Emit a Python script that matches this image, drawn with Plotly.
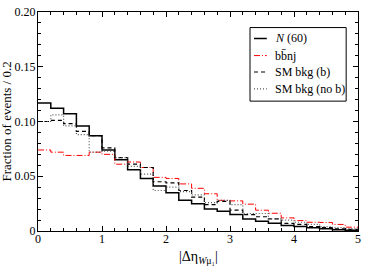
import plotly.graph_objects as go

# ---------------- data ----------------
bin_edges = [round(0.2 * i, 1) for i in range(26)]
n60 = [0.117, 0.112, 0.107, 0.096, 0.087, 0.074, 0.065, 0.056, 0.048, 0.041,
       0.035, 0.028, 0.025, 0.020, 0.018, 0.015, 0.011, 0.009, 0.007, 0.005,
       0.004, 0.003, 0.002, 0.0012, 0.0006]
bbnj = [0.074, 0.072, 0.069, 0.069, 0.072, 0.070, 0.061, 0.063, 0.058, 0.049,
        0.048, 0.043, 0.039, 0.034, 0.028, 0.0275, 0.0245, 0.019, 0.0162, 0.012,
        0.0095, 0.008, 0.0078, 0.006, 0.0035]
sm_b = [0.100, 0.101, 0.098, 0.091, 0.087, 0.076, 0.067, 0.061, 0.058, 0.045,
        0.044, 0.037, 0.031, 0.024, 0.027, 0.019, 0.015, 0.013, 0.011, 0.007,
        0.006, 0.004, 0.003, 0.002, 0.0015]
sm_nob = [0.100, 0.106, 0.096, 0.088, 0.072, 0.073, 0.067, 0.059, 0.052, 0.037,
          0.040, 0.036, 0.033, 0.026, 0.028, 0.024, 0.016, 0.016, 0.011, 0.010,
          0.008, 0.006, 0.004, 0.003, 0.002]
series_names = ["<i>N</i> (60)", "bb\u0304nj", "SM bkg (b)", "SM bkg (no b)"]
x_tickvals = [0, 1, 2, 3, 4, 5]
x_ticktext = ["0", "1", "2", "3", "4", "5"]
y_tickvals = [0, 0.05, 0.10, 0.15, 0.20]
y_ticktext = ["0", "0.05", "0.10", "0.15", "0.20"]
x_title = "|Δη<sub><i>W</i>μ₁</sub>|"
y_title = "Fraction of events / 0.2"

FONT = "Liberation Serif, Times New Roman, serif"

styles = [
    dict(color="black", width=1.5, dash="solid"),
    dict(color="#ff0000", width=1.0, dash="6px,2px,1px,2px"),
    dict(color="black", width=1.2, dash="4px,3px"),
    dict(color="#555555", width=1.2, dash="1px,2px"),
]

fig = go.Figure()
for vals, name, st in zip([n60, bbnj, sm_b, sm_nob], series_names, styles):
    xs = bin_edges[:-1] + [bin_edges[-1]]
    ys = vals + [vals[-1]]
    fig.add_trace(go.Scatter(x=xs, y=ys, mode="lines", line_shape="hv",
                             name=name, line=st, showlegend=False))

# manual legend
leg_x0, leg_x1 = 0.6625, 0.963
leg_y0, leg_y1 = 0.593, 0.929
fig.add_shape(type="rect", xref="paper", yref="paper", x0=leg_x0, x1=leg_x1,
              y0=leg_y0, y1=leg_y1, line=dict(color="black", width=1),
              fillcolor="white", layer="above")
item_y = [0.879, 0.801, 0.726, 0.649]
for yy, name, st in zip(item_y, series_names, styles):
    fig.add_shape(type="line", xref="paper", yref="paper", x0=0.675, x1=0.715,
                  y0=yy, y1=yy, line=st, layer="above")
    fig.add_annotation(xref="paper", yref="paper", x=0.734, y=yy, text=name,
                       showarrow=False, xanchor="left", yanchor="middle",
                       font=dict(family=FONT, size=12, color="black"))

# axis titles
fig.add_annotation(xref="paper", yref="paper", x=0.5, y=-0.075, text=x_title,
                   showarrow=False, xanchor="center", yanchor="top",
                   font=dict(family=FONT, size=14, color="black"))
fig.add_annotation(xref="paper", yref="paper", x=-0.1, y=0.5, text=y_title,
                   showarrow=False, xanchor="center", yanchor="middle", textangle=-90,
                   font=dict(family=FONT, size=13, color="black"))

axis_common = dict(showline=True, linecolor="black", linewidth=1.2, mirror="allticks",
                   ticks="inside", ticklen=5, tickcolor="black", tickwidth=1,
                   showgrid=False, zeroline=False, ticklabeloverflow="allow",
                   tickfont=dict(family=FONT, size=12, color="black"))

fig.update_xaxes(range=[0, 5], tickvals=x_tickvals, ticktext=x_ticktext,
                 minor=dict(dtick=0.2, ticks="inside", ticklen=3, tickcolor="black", showgrid=False),
                 ticklabelstandoff=-4, **axis_common)
fig.update_yaxes(range=[0, 0.2], tickvals=y_tickvals, ticktext=y_ticktext,
                 minor=dict(dtick=0.01, tick0=0, ticks="inside", ticklen=3, tickcolor="black", showgrid=False),
                 ticklabelstandoff=-1, **axis_common)

fig.update_layout(width=366, height=267, margin=dict(l=38, r=5, t=5, b=36),
                  plot_bgcolor="white", paper_bgcolor="white",
                  font=dict(family=FONT, color="black"))

fig.write_html("out.html", config={"displayModeBar": False},
               post_script="document.body.style.margin='0';document.body.style.padding='0';")
